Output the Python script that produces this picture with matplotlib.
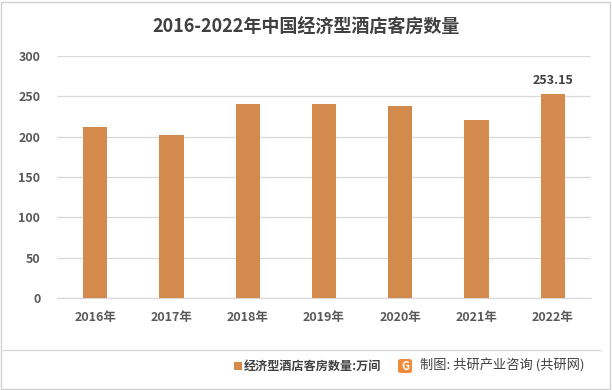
import matplotlib
matplotlib.use("Agg")
import matplotlib.pyplot as plt
from matplotlib.patches import Rectangle, FancyBboxPatch
from matplotlib.lines import Line2D

plt.rcParams['font.family'] = ['Noto Sans CJK SC', 'DejaVu Sans']

years = ["2016年", "2017年", "2018年", "2019年", "2020年", "2021年", "2022年"]
values = [212, 202, 241, 241, 238, 221, 253.15]
yticks = [0, 50, 100, 150, 200, 250, 300]
series_name = "经济型酒店客房数量:万间"
title = "2016-2022年中国经济型酒店客房数量"
source = "制图: 共研产业咨询 (共研网)"

bar_color = "#D48A4C"
text_color = "#595959"

fig = plt.figure(figsize=(6.12, 3.9), dpi=100)
ax = fig.add_axes([57/612, 1-298/390, (591-57)/612, (298-56)/390])

x = list(range(len(years)))
ax.bar(x, values, width=0.32, color=bar_color, zorder=3)
ax.set_xlim(-0.5, len(years)-0.5)
ax.set_ylim(0, 300)
ax.set_yticks(yticks)
ax.set_xticks(x)
ax.set_xticklabels(years)
ax.yaxis.grid(True, color="#D9D9D9", linewidth=0.9, zorder=0)
for s in ["top", "right", "left"]:
    ax.spines[s].set_visible(False)
ax.spines["bottom"].set_color("#D9D9D9")
ax.spines["bottom"].set_linewidth(0.9)
ax.tick_params(axis="both", length=0, colors=text_color, labelsize=9)
ax.tick_params(axis="y", pad=12)
ax.tick_params(axis="x", pad=9)
for lbl in ax.get_xticklabels() + ax.get_yticklabels():
    lbl.set_fontweight("bold")
    lbl.set_color(text_color)

ax.annotate(f"{values[-1]:.2f}", xy=(x[-1], values[-1]), xytext=(0, 5),
            textcoords="offset points", ha="center", va="bottom",
            fontsize=9, color="#404040", fontweight="bold")

fig.text(0.5, 1-27/390, title, ha="center", va="center", fontsize=13,
         fontweight="bold", color="#404040")

# frame
fig.add_artist(Rectangle((1/612, 1/390), 609/612, 387/390, transform=fig.transFigure,
                         fill=False, edgecolor="#D0D0D0", linewidth=1))
fig.add_artist(Line2D([3/612, 600/612], [1-350/390, 1-350/390], transform=fig.transFigure,
                      color="#D9D9D9", linewidth=1))

# legend
fig.add_artist(Rectangle((234/612, 1-370/390), 8/612, 8/390, transform=fig.transFigure,
                         facecolor=bar_color, edgecolor="none"))
fig.text(244/612, 1-366/390, series_name, ha="left", va="center", fontsize=8.7,
         color="#404040", fontweight="bold")
fig.add_artist(FancyBboxPatch((398/612, 1-373/390), 14/612, 14/390,
                              boxstyle="round,pad=0,rounding_size=0.005",
                              transform=fig.transFigure, facecolor="#F08A3C", edgecolor="none"))
fig.text(405/612, 1-366/390, "G", ha="center", va="center", fontsize=8,
         color="white", fontweight="bold")
fig.text(420/612, 1-366/390, source, ha="left", va="center", fontsize=9.5,
         color="#404040")

fig.savefig("out.png", dpi=100)
